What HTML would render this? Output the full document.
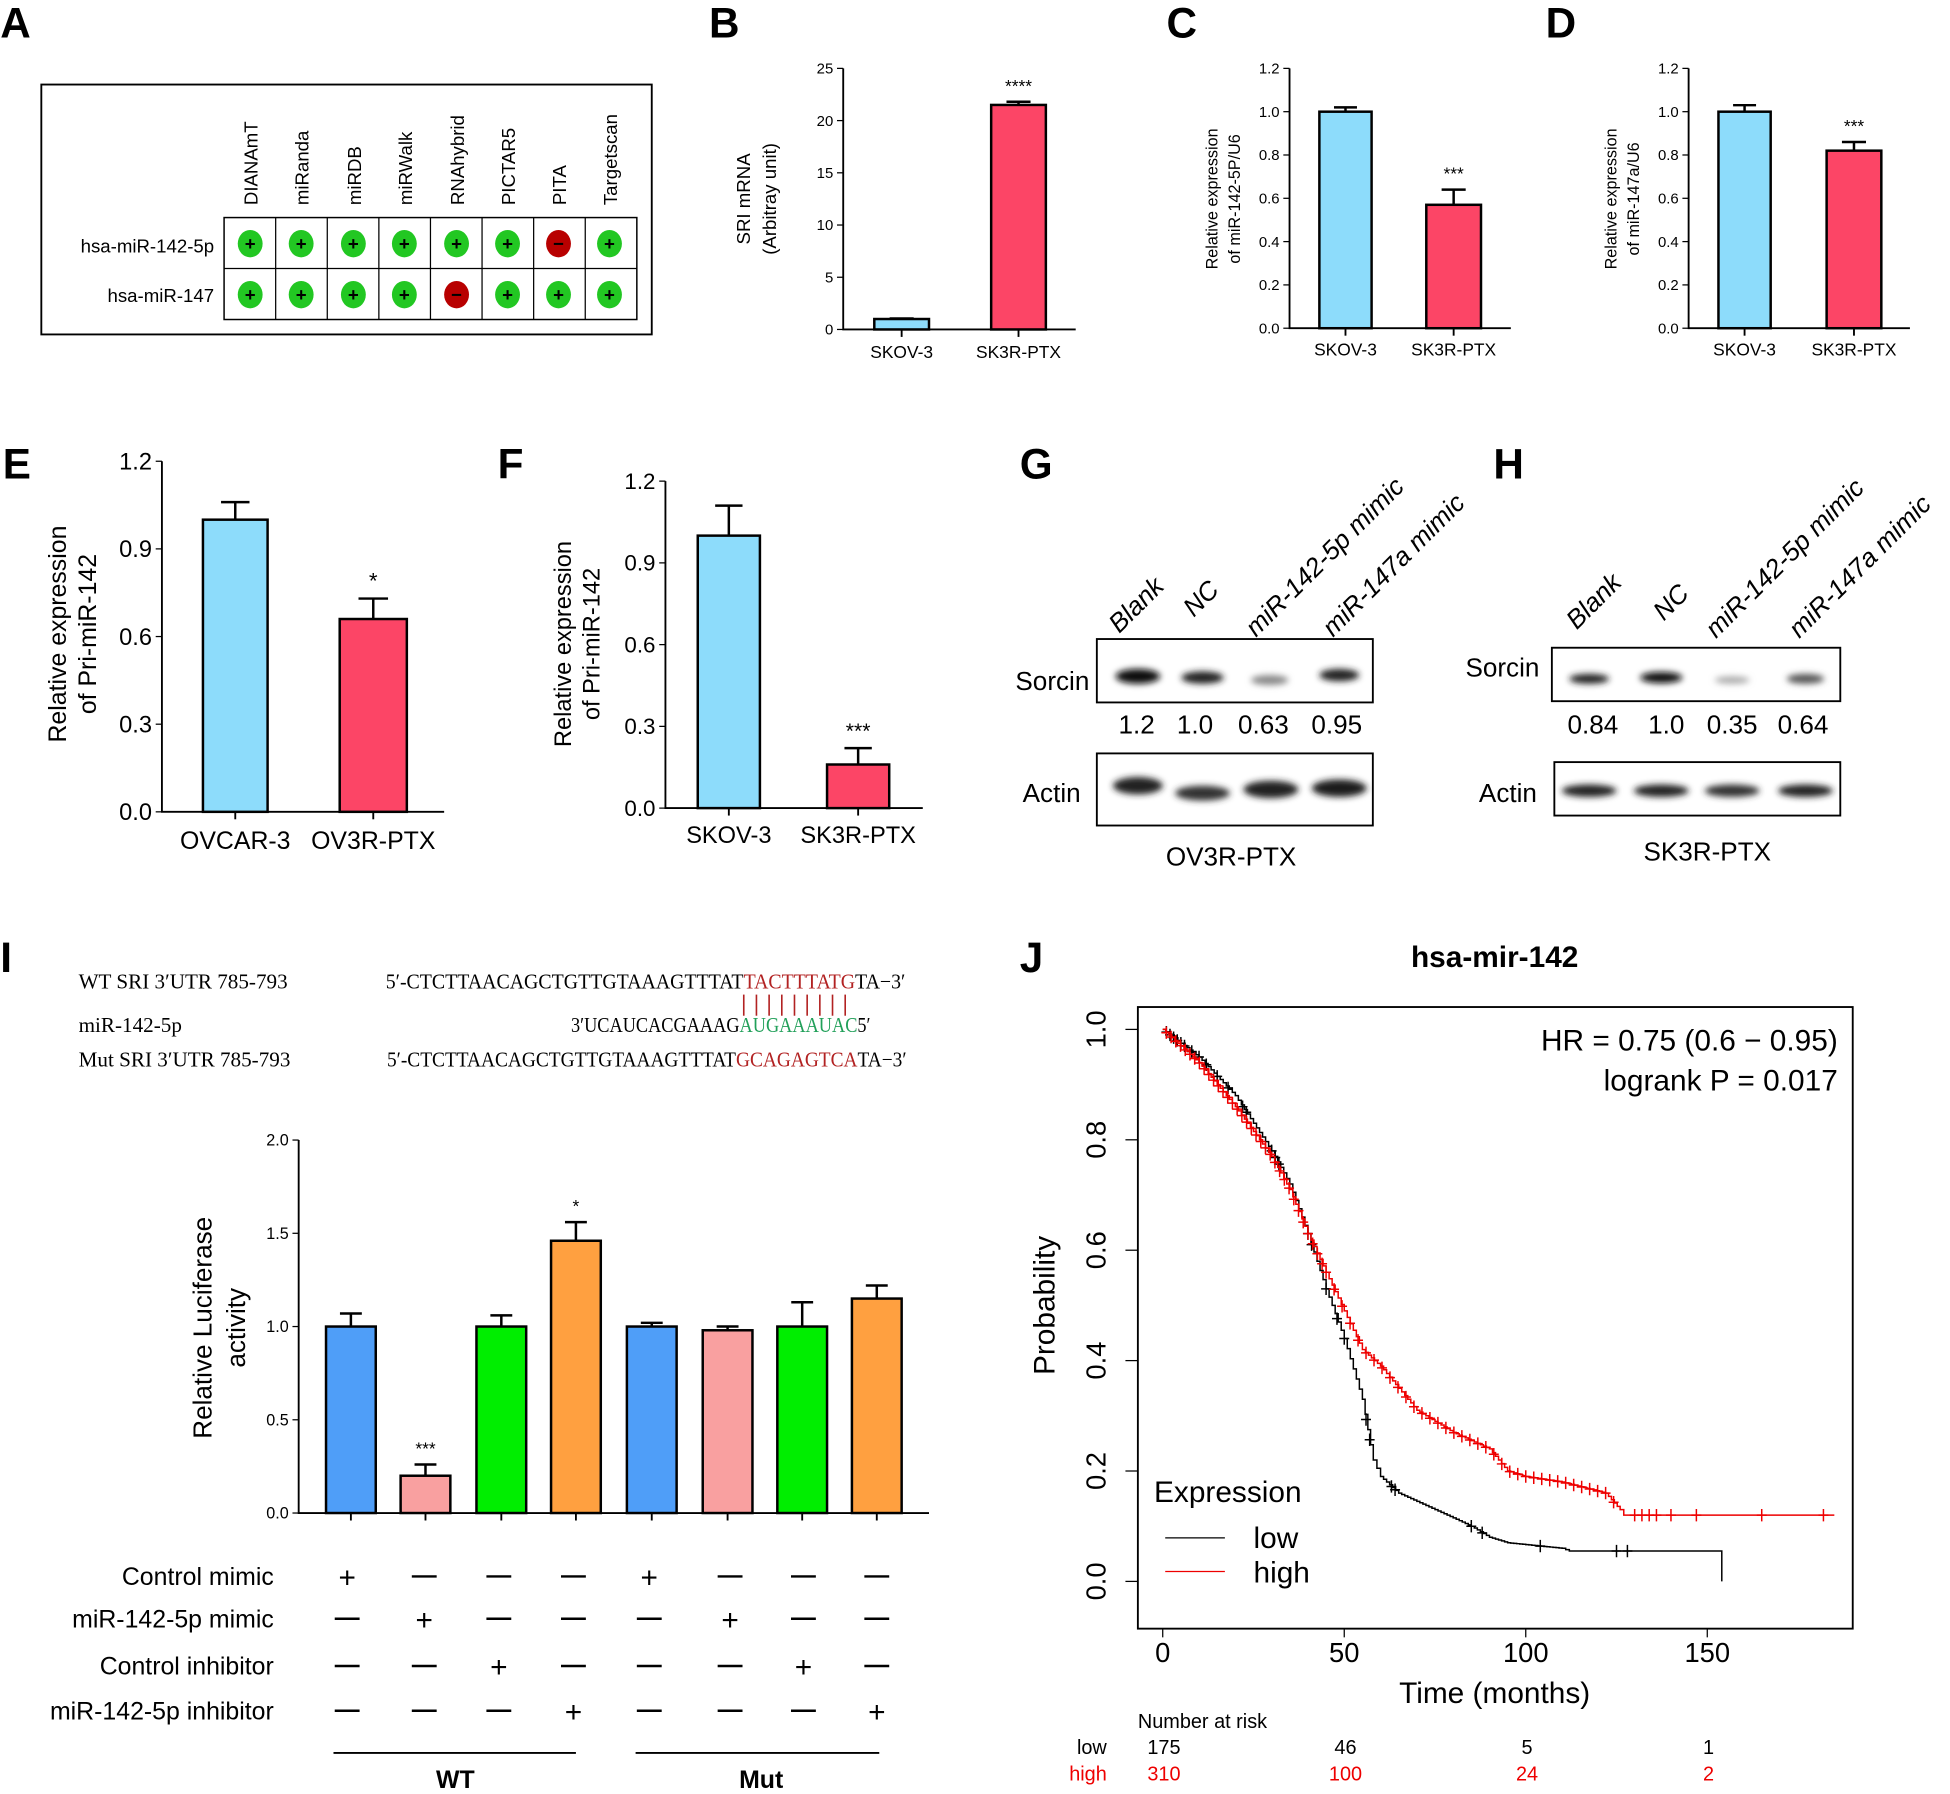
<!DOCTYPE html>
<html><head><meta charset="utf-8"><style>
html,body{margin:0;padding:0;background:#fff}
svg{display:block}
text{font-family:"Liberation Sans",sans-serif}
.s{font-family:"Liberation Serif",serif}
</style></head><body>
<svg id="m" width="1950" height="1794" viewBox="0 0 1568 1443" xmlns="http://www.w3.org/2000/svg">
<defs><filter id="bl" x="-50%" y="-50%" width="200%" height="200%"><feGaussianBlur stdDeviation="2.5"/></filter></defs>
<g font-weight="bold" font-size="34">
<text x="0" y="30">A</text><text x="570" y="30">B</text><text x="938" y="30">C</text><text x="1243" y="30">D</text>
<text x="2" y="385">E</text><text x="400" y="385">F</text><text x="820" y="385">G</text><text x="1201" y="385">H</text>
<text x="0" y="782">I</text><text x="820" y="782">J</text>
</g>
<rect x="33" y="68" width="491" height="201" fill="none" stroke="#000" stroke-width="1.5"/>
<rect x="180" y="175" width="332" height="82" fill="none" stroke="#000" stroke-width="1.2"/>
<line x1="180" y1="216" x2="512" y2="216" stroke="#000"/>
<g id="acols" stroke="#000"></g>
<g font-size="15">
<text x="172" y="203" text-anchor="end">hsa-miR-142-5p</text>
<text x="172" y="243" text-anchor="end">hsa-miR-147</text>
</g>
<g id="alab" font-size="15"></g>
<g id="acirc"></g>
<g id="B"></g>
<g id="C"></g><g id="D"></g><g id="E"></g><g id="F"></g><g id="I"></g>
<g font-size="21" font-style="italic">
<text transform="translate(900,510) rotate(-45)">Blank</text>
<text transform="translate(960,497) rotate(-45)">NC</text>
<text transform="translate(1010,513) rotate(-45)">miR-142-5p mimic</text>
<text transform="translate(1072,513) rotate(-45)">miR-147a mimic</text>
<text transform="translate(1268,507) rotate(-45)">Blank</text>
<text transform="translate(1338,500) rotate(-45)">NC</text>
<text transform="translate(1380,514) rotate(-45)">miR-142-5p mimic</text>
<text transform="translate(1447,514) rotate(-45)">miR-147a mimic</text>
</g>
<rect x="882" y="514" width="222" height="51" fill="#fff" stroke="#000" stroke-width="1.5"/>
<rect x="882" y="606" width="222" height="58" fill="#fff" stroke="#000" stroke-width="1.5"/>
<rect x="1248" y="521" width="232" height="43" fill="#fff" stroke="#000" stroke-width="1.5"/>
<rect x="1250" y="613" width="230" height="43" fill="#fff" stroke="#000" stroke-width="1.5"/>
<g filter="url(#bl)">
<ellipse cx="915" cy="544" rx="18" ry="6" fill="#111"/>
<ellipse cx="967" cy="545" rx="17" ry="5" fill="#222"/>
<ellipse cx="1021" cy="547" rx="15" ry="4" fill="#888"/>
<ellipse cx="1077" cy="543" rx="16" ry="5" fill="#222"/>
<ellipse cx="915" cy="632" rx="20" ry="7" fill="#222"/>
<ellipse cx="967" cy="638" rx="22" ry="6" fill="#333"/>
<ellipse cx="1022" cy="635" rx="22" ry="7" fill="#222"/>
<ellipse cx="1077" cy="634" rx="22" ry="7" fill="#1a1a1a"/>
<ellipse cx="1278" cy="546" rx="16" ry="4" fill="#222"/>
<ellipse cx="1336" cy="545" rx="17" ry="4.5" fill="#111"/>
<ellipse cx="1393" cy="547" rx="14" ry="3" fill="#aaa"/>
<ellipse cx="1452" cy="546" rx="15" ry="4" fill="#555"/>
<ellipse cx="1278" cy="636" rx="22" ry="5" fill="#222"/>
<ellipse cx="1336" cy="636" rx="22" ry="5" fill="#222"/>
<ellipse cx="1393" cy="636" rx="22" ry="5" fill="#333"/>
<ellipse cx="1452" cy="636" rx="22" ry="5" fill="#222"/>
</g>
<g font-size="21">
<text x="876" y="555" text-anchor="end">Sorcin</text>
<text x="869" y="645" text-anchor="end">Actin</text>
<text x="914" y="590" text-anchor="middle">1.2</text><text x="961" y="590" text-anchor="middle">1.0</text>
<text x="1016" y="590" text-anchor="middle">0.63</text><text x="1075" y="590" text-anchor="middle">0.95</text>
<text x="990" y="696" text-anchor="middle">OV3R-PTX</text>
<text x="1238" y="544" text-anchor="end">Sorcin</text>
<text x="1236" y="645" text-anchor="end">Actin</text>
<text x="1281" y="590" text-anchor="middle">0.84</text><text x="1340" y="590" text-anchor="middle">1.0</text>
<text x="1393" y="590" text-anchor="middle">0.35</text><text x="1450" y="590" text-anchor="middle">0.64</text>
<text x="1373" y="692" text-anchor="middle">SK3R-PTX</text>
</g>
<g class="s" font-size="17">
<text class="s" x="63" y="795">WT SRI 3′UTR 785-793</text>
<text class="s" x="63" y="830">miR-142-5p</text>
<text class="s" x="63" y="858">Mut SRI 3′UTR 785-793</text>
<text class="s" x="310" y="795" textLength="418" lengthAdjust="spacingAndGlyphs">5′-CTCTTAACAGCTGTTGTAAAGTTTAT<tspan fill="#b22222">TACTTTATG</tspan>TA−3′</text>
<text class="s" x="459" y="830" textLength="241" lengthAdjust="spacingAndGlyphs">3′UCAUCACGAAAG<tspan fill="#22a05a">AUGAAAUAC</tspan>5′</text>
<text class="s" x="311" y="858" textLength="418" lengthAdjust="spacingAndGlyphs">5′-CTCTTAACAGCTGTTGTAAAGTTTAT<tspan fill="#b22222">GCAGAGTCA</tspan>TA−3′</text>
</g>
<g id="lines" stroke="#b22222" stroke-width="1.3"></g>
<g font-size="20">
<text x="220" y="1275" text-anchor="end">Control mimic</text>
<text x="220" y="1309" text-anchor="end">miR-142-5p mimic</text>
<text x="220" y="1347" text-anchor="end">Control inhibitor</text>
<text x="220" y="1383" text-anchor="end">miR-142-5p inhibitor</text>
</g>
<g id="tbl" font-size="24" text-anchor="middle"></g>
<g stroke="#000" stroke-width="1.5"><line x1="268" y1="1410" x2="463" y2="1410"/><line x1="511" y1="1410" x2="707" y2="1410"/></g>
<g font-size="20" font-weight="bold" text-anchor="middle"><text x="366" y="1438">WT</text><text x="612" y="1438">Mut</text></g>
<text x="1202" y="778" font-size="24" font-weight="bold" text-anchor="middle">hsa-mir-142</text>
<rect x="915" y="810" width="575" height="500" fill="none" stroke="#000" stroke-width="1.5"/>
<g id="J"></g>
<g font-size="24">
<text x="1478" y="845" text-anchor="end">HR = 0.75 (0.6 − 0.95)</text>
<text x="1478" y="877" text-anchor="end">logrank P = 0.017</text>
<text x="928" y="1208">Expression</text>
<text x="1008" y="1245">low</text>
<text x="1008" y="1273">high</text>
<text x="1202" y="1370" text-anchor="middle">Time (months)</text>
<text transform="translate(848,1050) rotate(-90)" text-anchor="middle">Probability</text>
</g>
<line x1="937" y1="1237" x2="985" y2="1237" stroke="#000"/>
<line x1="937" y1="1264" x2="985" y2="1264" stroke="#e00"/>
<g font-size="16" text-anchor="middle">
<text x="915" y="1390" text-anchor="start">Number at risk</text>
<text x="890" y="1411" text-anchor="end">low</text>
<text x="936" y="1411">175</text><text x="1082" y="1411">46</text><text x="1228" y="1411">5</text><text x="1374" y="1411">1</text>
<g fill="#e00"><text x="890" y="1432" text-anchor="end">high</text>
<text x="936" y="1432">310</text><text x="1082" y="1432">100</text><text x="1228" y="1432">24</text><text x="1374" y="1432">2</text></g>
</g>
</svg>
<script>
const NS="http://www.w3.org/2000/svg";
function el(p,t,a,txt){const e=document.createElementNS(NS,t);for(const k in a)e.setAttribute(k,a[k]);if(txt!==undefined)e.textContent=txt;document.getElementById(p).appendChild(e);return e;}
const ac=[201,242,284,325,367,408,449,490],names=["DIANAmT","miRanda","miRDB","miRWalk","RNAhybrid","PICTAR5","PITA","Targetscan"];
for(let i=1;i<8;i++){const x=180+i*41.5;el("acols","line",{x1:x,y1:175,x2:x,y2:257});}
ac.forEach((x,i)=>{el("alab","text",{transform:`translate(${x+6},165) rotate(-90)`},names[i]);
 [196,237].forEach((y,r)=>{const red=(r==0&&i==6)||(r==1&&i==4);
 el("acirc","ellipse",{cx:x,cy:y,rx:10,ry:11,fill:red?"#b80000":"#22c722"});
 el("acirc","text",{x:x,y:y+5,"text-anchor":"middle","font-size":15,"font-weight":"bold"},red?"−":"+");});});
function chart(id,o){
 const g=id;const sc=(o.y0-o.y1)/o.max;
 el(g,"path",{d:`M${o.ax} ${o.y1}V${o.y0}H${o.xe}`,fill:"none",stroke:"#000","stroke-width":o.sw||1.5});
 o.ticks.forEach(t=>{const y=o.y0-t*sc;el(g,"line",{x1:o.ax-5,y1:y,x2:o.ax,y2:y,stroke:"#000"});
  el(g,"text",{x:o.ax-8,y:y+o.fs*0.35,"text-anchor":"end","font-size":o.fs},t.toFixed(o.dec));});
 o.bars.forEach(b=>{const top=o.y0-b.v*sc,et=o.y0-b.e*sc,c=b.x0+b.w/2;
  el(g,"line",{x1:c,y1:top,x2:c,y2:et,stroke:"#000","stroke-width":2});
  el(g,"line",{x1:c-b.w*0.22,y1:et,x2:c+b.w*0.22,y2:et,stroke:"#000","stroke-width":2});
  el(g,"rect",{x:b.x0,y:top,width:b.w,height:o.y0-top,fill:b.c,stroke:"#000","stroke-width":2});
  el(g,"line",{x1:c,y1:o.y0,x2:c,y2:o.y0+6,stroke:"#000","stroke-width":1.5});
  if(b.s)el(g,"text",{x:c,y:et-8,"text-anchor":"middle","font-size":o.sfs||14},b.s);
  if(b.l)el(g,"text",{x:c,y:o.y0+o.ly,"text-anchor":"middle","font-size":o.lfs},b.l);});
 o.tt.forEach(t=>el(g,"text",{transform:`translate(${t[0]},${t[1]}) rotate(-90)`,"text-anchor":"middle","font-size":t[3]},t[2]));
}
const BL="#8ddcfb",RD="#fc4566";
chart("B",{ax:678,y0:265,y1:55,xe:865,max:25,ticks:[0,5,10,15,20,25],dec:0,fs:12,lfs:14,ly:23,
 bars:[{x0:703,w:44,v:1,e:1.05,c:BL,l:"SKOV-3"},{x0:797,w:44,v:21.5,e:21.8,c:RD,l:"SK3R-PTX",s:"****"}],
 tt:[[603,160,"SRI mRNA",15],[624,160,"(Arbitray unit)",15]]});
chart("C",{ax:1037,y0:264,y1:55,xe:1215,max:1.2,ticks:[0,.2,.4,.6,.8,1,1.2],dec:1,fs:12,lfs:14,ly:22,
 bars:[{x0:1061,w:42,v:1,e:1.02,c:BL,l:"SKOV-3"},{x0:1147,w:44,v:.57,e:.64,c:RD,l:"SK3R-PTX",s:"***"}],
 tt:[[979,160,"Relative  expression",13],[997,160,"of miR-142-5P/U6",13]]});
chart("D",{ax:1358,y0:264,y1:55,xe:1536,max:1.2,ticks:[0,.2,.4,.6,.8,1,1.2],dec:1,fs:12,lfs:14,ly:22,
 bars:[{x0:1382,w:42,v:1,e:1.03,c:BL,l:"SKOV-3"},{x0:1469,w:44,v:.82,e:.86,c:RD,l:"SK3R-PTX",s:"***"}],
 tt:[[1300,160,"Relative  expression",13],[1318,160,"of miR-147a/U6",13]]});
chart("E",{ax:130,y0:653,y1:371,xe:357,max:1.2,ticks:[0,.3,.6,.9,1.2],dec:1,fs:19,lfs:20,ly:30,sfs:18,
 bars:[{x0:163,w:52,v:1,e:1.06,c:BL,l:"OVCAR-3"},{x0:273,w:54,v:.66,e:.73,c:RD,l:"OV3R-PTX",s:"*"}],
 tt:[[53,510,"Relative  expression",20],[77,510,"of Pri-miR-142",20]]});
chart("F",{ax:535,y0:650,y1:387,xe:742,max:1.2,ticks:[0,.3,.6,.9,1.2],dec:1,fs:18,lfs:19,ly:28,sfs:17,
 bars:[{x0:561,w:50,v:1,e:1.11,c:BL,l:"SKOV-3"},{x0:665,w:50,v:.16,e:.22,c:RD,l:"SK3R-PTX",s:"***"}],
 tt:[[459,518,"Relative  expression",19],[482,518,"of Pri-miR-142",19]]});
const IB="#4f9ef8",IP="#f9a0a0",IG="#00ee00",IO="#ffa040",xs=[282,342,403,463,524,585,645,705];
const vals=[[1,1.07,IB],[.2,.26,IP,"***"],[1,1.06,IG],[1.46,1.56,IO,"*"],[1,1.02,IB],[.98,1,IP],[1,1.13,IG],[1.15,1.22,IO]];
chart("I",{ax:240,y0:1217,y1:917,xe:747,max:2,ticks:[0,.5,1,1.5,2],dec:1,fs:13,lfs:14,ly:20,sfs:14,
 bars:vals.map((v,i)=>({x0:xs[i]-20,w:40,v:v[0],e:v[1],c:v[2],s:v[3]})),
 tt:[[170,1068,"Relative Luciferase",21],[197,1068,"activity",21]]});
const tx=[279,341,401,461,522,587,646,705],ty=[1268,1302,1340,1376];
ty.forEach((y,r)=>tx.forEach((x,c)=>{const p=(c%4)==r;
 if(p)el("tbl","text",{x:x,y:y+9},"+");else el("tbl","line",{x1:x-10,y1:y,x2:x+10,y2:y,stroke:"#000","stroke-width":2});}));
for(let i=0;i<9;i++){const x=598+i*10.2;el("lines","line",{x1:x,y1:800,x2:x,y2:817});}
const X=t=>935+t*2.92,Y=p=>1272-p*444;
[0,.2,.4,.6,.8,1].forEach(p=>{el("J","line",{x1:905,y1:Y(p),x2:915,y2:Y(p),stroke:"#000"});
 el("J","text",{transform:`translate(889,${Y(p)}) rotate(-90)`,"text-anchor":"middle","font-size":22},p.toFixed(1));});
[0,50,100,150].forEach(t=>{el("J","line",{x1:X(t),y1:1310,x2:X(t),y2:1317,stroke:"#000"});
 el("J","text",{x:X(t),y:1337,"text-anchor":"middle","font-size":22},t);});
function km(pts,col,end,cens){let d=`M${X(pts[0][0])} ${Y(pts[0][1])}`;
 for(let i=1;i<pts.length;i++){const a=pts[i-1],b=pts[i];const n=Math.max(1,Math.round((b[0]-a[0])*1.2));
  for(let k=1;k<=n;k++){const t=a[0]+(b[0]-a[0])*k/n,p=a[1]+(b[1]-a[1])*k/n;d+=`H${X(t)}V${Y(p)}`;}}
 if(end)d+=`V${Y(0)}`;
 el("J","path",{d:d,fill:"none",stroke:col,"stroke-width":1.2});
 cens.forEach(t=>{let p=pts[0][1];for(let i=1;i<pts.length;i++){if(t<=pts[i][0]){const a=pts[i-1],b=pts[i];p=a[1]+(b[1]-a[1])*(t-a[0])/(b[0]-a[0]);break;}p=pts[i][1];}
  el("J","path",{d:`M${X(t)-4} ${Y(p)}h8M${X(t)} ${Y(p)-5}v10`,stroke:col,"stroke-width":1.2});});}
const blk=[[0,1],[10,.95],[20,.88],[30,.78],[35,.72],[40,.63],[45,.53],[50,.44],[55,.33],[58,.22],[60,.19],[65,.16],[75,.13],[85,.1],[90,.08],[95,.07],[110,.06],[112,.055],[154,.055]];
const red=[[0,1],[10,.94],[20,.86],[30,.77],[35,.71],[40,.63],[45,.56],[50,.49],[55,.42],[60,.39],[65,.35],[70,.31],[80,.27],[90,.24],[95,.2],[100,.19],[110,.18],[122,.16],[126,.13],[127,.12],[185,.12]];
km(blk,"#000",true,[1,2,3,4,5,6,8,10,12,15,18,22,23,30,31,32,40,41,45,48,50,56,57,63,64,85,88,104,125,128]);
const rc=[];for(let t=1;t<45;t+=1.3)rc.push(t);for(let t=45;t<125;t+=2.2)rc.push(t);[130,132,134,136,140,147,165,182].forEach(t=>rc.push(t));
km(red,"#e00",false,rc);
</script>
</body></html>
